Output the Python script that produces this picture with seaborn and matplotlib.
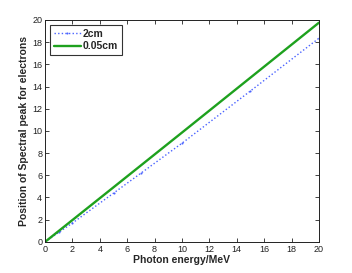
import numpy as np
import pandas as pd
import matplotlib
matplotlib.use("Agg")
import matplotlib.pyplot as plt
import seaborn as sns

# data
energy_2cm = [0, 1, 2, 5, 7, 10, 15, 20]
peak_2cm = [0, 0.85, 1.7, 4.39, 6.19, 8.89, 13.6, 18.35]
energy_005cm = [0, 5, 10, 15, 20]
peak_005cm = [0, 4.92, 9.85, 14.8, 19.75]

df1 = pd.DataFrame({"E": energy_2cm, "P": peak_2cm})
df2 = pd.DataFrame({"E": energy_005cm, "P": peak_005cm})

sns.set_style("ticks")
plt.rcParams['font.family'] = ['Liberation Sans', 'DejaVu Sans']

fig = plt.figure(figsize=(3.52, 2.73), dpi=100)
ax = fig.add_axes([0.128, 0.114, 0.778, 0.813])

sns.lineplot(data=df1, x="E", y="P", ax=ax, color="#4a63ff",
             linestyle=(0, (1, 1.6)), linewidth=1.0, marker=".",
             markersize=3, markeredgewidth=0, label="2cm")
sns.lineplot(data=df2, x="E", y="P", ax=ax, color="#1ea11e", linewidth=1.7,
             label="0.05cm")

ax.set_xlim(0, 20)
ax.set_ylim(0, 20)
ax.set_xticks(np.arange(0, 21, 2))
ax.set_yticks(np.arange(0, 21, 2))
ax.tick_params(direction="in", length=3, width=0.6, labelsize=6.5,
               top=True, right=True, pad=2, colors="#222222")
for s in ax.spines.values():
    s.set_linewidth(0.7)
    s.set_color("#222222")
ax.set_xlabel("Photon energy/MeV", fontsize=7.5, fontweight="bold", labelpad=1)
ax.set_ylabel("Position of Spectral peak for electrons", fontsize=7.5,
              fontweight="bold", labelpad=2)

leg = ax.legend(loc="upper left", fontsize=7.5, frameon=True, fancybox=False,
                borderpad=0.35, handlelength=2.6, handletextpad=0.2,
                labelspacing=0.25, borderaxespad=0.5)
leg.get_frame().set_edgecolor("black")
leg.get_frame().set_linewidth(0.8)
for t in leg.get_texts():
    t.set_fontweight("bold")

fig.savefig("out.png", dpi=100)
